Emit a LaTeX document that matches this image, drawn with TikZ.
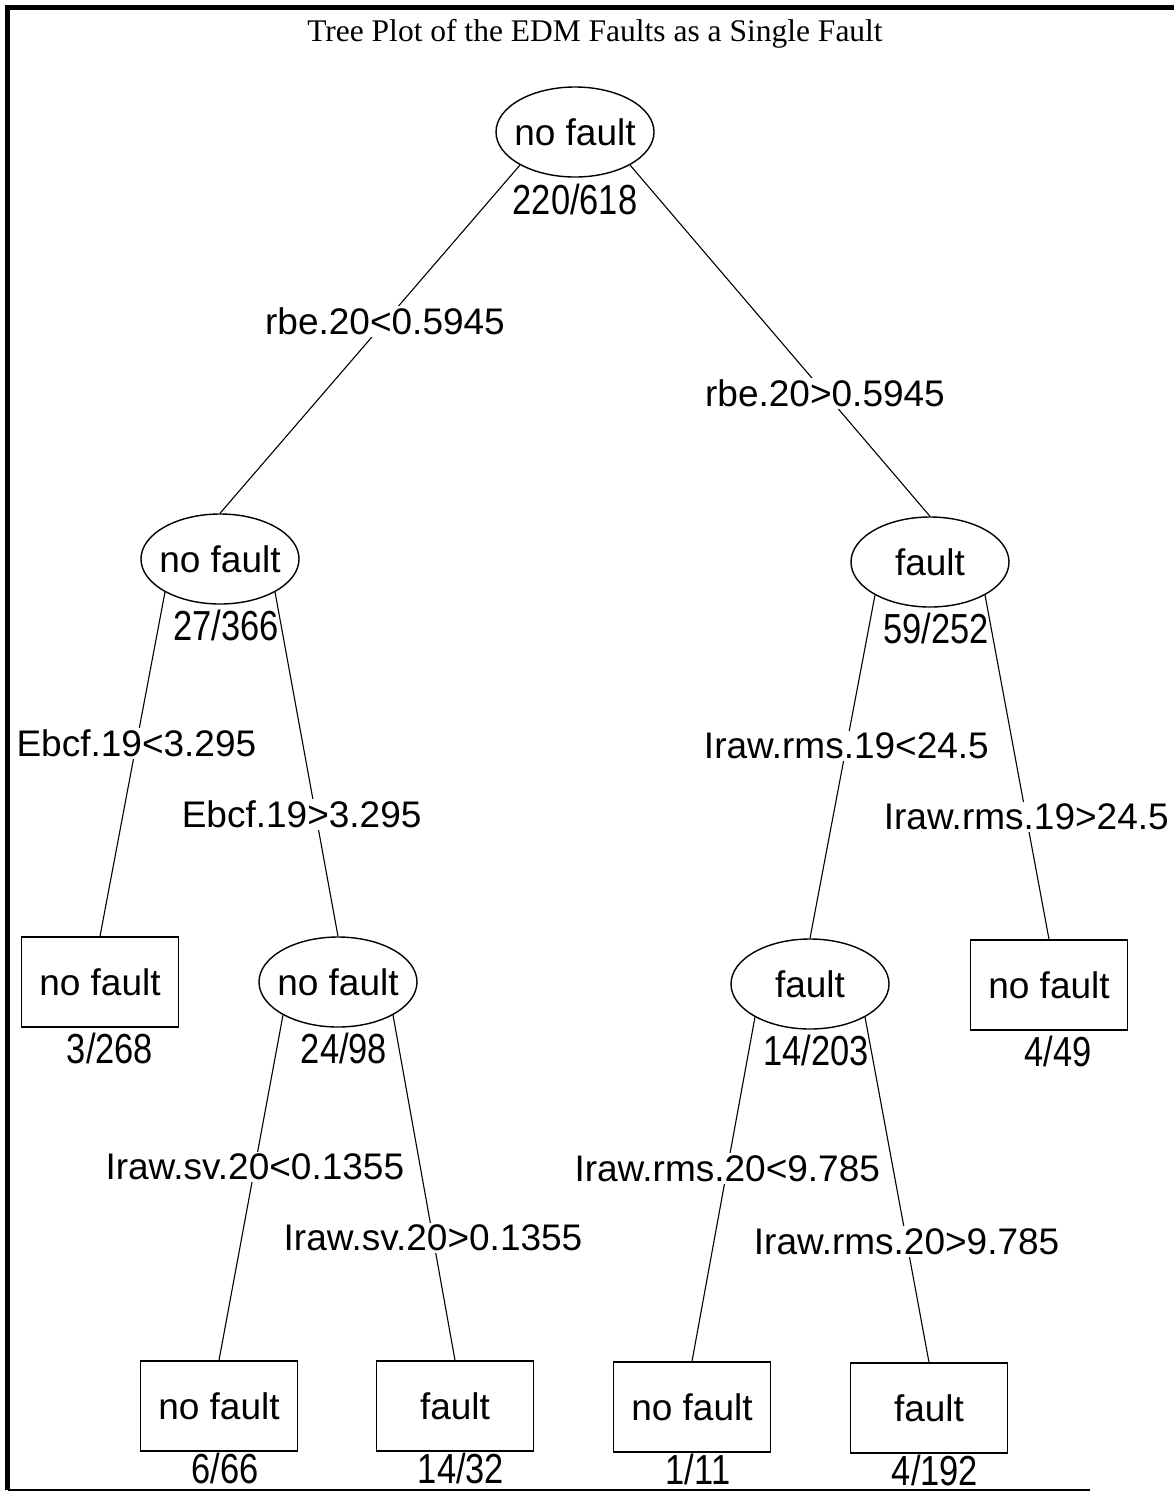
\documentclass[tikz,border=0pt]{standalone}
\usepackage{fontspec}
\setmainfont{Liberation Sans}
\newfontfamily\titlefont{Liberation Serif}
\newfontfamily\cntfont{Liberation Sans}[FakeStretch=0.82]
\usetikzlibrary{positioning, shapes.geometric}

\begin{document}
\begin{tikzpicture}[x=1pt, y=-1pt, line width=1.1pt]
    \tikzset{
        split/.style={
                ellipse, draw, line width=1.4pt, minimum width=158pt, minimum height=90pt,
                inner xsep=-16pt, inner ysep=0pt, font=\fontsize{37}{40}\selectfont
            },
        leaf/.style={
                rectangle, draw, line width=1.4pt, minimum width=157pt, minimum height=90pt,
                inner sep=0pt, font=\fontsize{37}{40}\selectfont
            },
        cnt/.style={inner sep=0pt, xshift=6pt, font=\cntfont\fontsize{42}{44}\selectfont},
        rule/.style={fill=white, inner sep=2pt, font=\fontsize{37}{40}\selectfont}
    }
    \useasboundingbox (0,0) rectangle (1174,1492);

    % frame
    \draw[line width=5pt] (7.5,1490) -- (7.5,7.5) -- (1174,7.5);
    \draw[line width=2pt] (7.5,1489.5) -- (1090,1489.5);
    \node[font=\titlefont\fontsize{31.5}{34}\selectfont] (title) at (595,34) {Tree Plot of the EDM Faults as a Single Fault};

    % splits and leaves
    \node[split] (root) at (575,132) {no fault};
    \node[split] (left) at (220,559) {no fault};
    \node[split] (right) at (930,562) {fault};
    \node[leaf] (leftleaf) at (100,982) {no fault};
    \node[split] (leftsplit) at (338,982) {no fault};
    \node[split] (rightsplit) at (810,984) {fault};
    \node[leaf] (rightleaf) at (1049,985) {no fault};
    \node[leaf] (leafa) at (219,1406) {no fault};
    \node[leaf] (leafb) at (455,1406) {fault};
    \node[leaf] (leafc) at (692,1407) {no fault};
    \node[leaf] (leafd) at (929,1408) {fault};

    % counts
    \node[cnt, below=6pt of root, xshift=-6pt] {220/618};
    \node[cnt, below=5pt of left] {27/366};
    \node[cnt, below=5pt of right] {59/252};
    \node[cnt, below=5pt of leftleaf, xshift=4pt] {3/268};
    \node[cnt, below=5pt of leftsplit] {24/98};
    \node[cnt, below=5pt of rightsplit] {14/203};
    \node[cnt, below=5pt of rightleaf, xshift=3pt] {4/49};
    \node[cnt, below=1pt of leafa] {6/66};
    \node[cnt, below=1pt of leafb] {14/32};
    \node[cnt, below=1pt of leafc] {1/11};
    \node[cnt, below=1pt of leafd] {4/192};

    % branches
    \draw (root.-149) -- node[rule, pos=0.45] {rbe.20<0.5945} (left.north);
    \draw (root.-31) -- node[rule, pos=0.65] {rbe.20>0.5945} (right.north);
    \draw (left.-149) -- node[rule, pos=0.44] {Ebcf.19<3.295} (leftleaf.north);
    \draw (left.-31) -- node[rule, pos=0.645, xshift=-14pt] {Ebcf.19>3.295} (leftsplit.north);
    \draw (right.-149) -- node[rule, pos=0.44] {Iraw.rms.19<24.5} (rightsplit.north);
    \draw (right.-31) -- node[rule, pos=0.645] {Iraw.rms.19>24.5} (rightleaf.north);
    \draw (leftsplit.-149) -- node[rule, pos=0.44] {Iraw.sv.20<0.1355} (leafa.north);
    \draw (leftsplit.-31) -- node[rule, pos=0.645] {Iraw.sv.20>0.1355} (leafb.north);
    \draw (rightsplit.-149) -- node[rule, pos=0.44] {Iraw.rms.20<9.785} (leafc.north);
    \draw (rightsplit.-31) -- node[rule, pos=0.65] {Iraw.rms.20>9.785} (leafd.north);
\end{tikzpicture}
\end{document}
